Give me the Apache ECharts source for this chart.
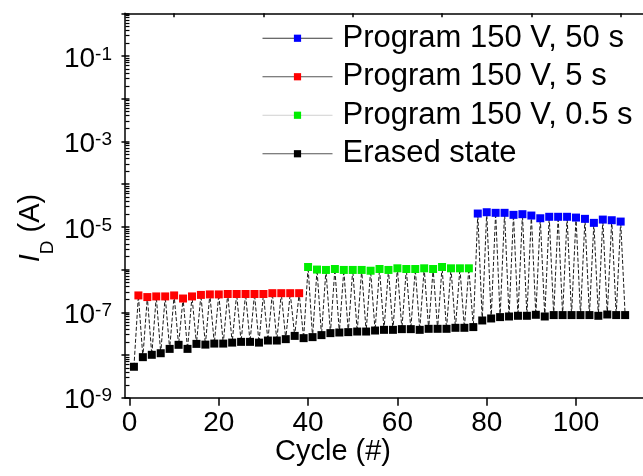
<!DOCTYPE html>
<html>
<head>
<meta charset="utf-8">
<script src="https://cdn.jsdelivr.net/npm/echarts@6/dist/echarts.min.js"></script>
<style>
  html, body { margin: 0; padding: 0; background: #fff; }
  #chart { width: 643px; height: 476px; }
</style>
</head>
<body>
<div id="chart"></div>
<script>
// Drain current over endurance cycles: erase on odd cycles, program on even cycles
const erasedCycles = [1, 3, 5, 7, 9, 11, 13, 15, 17, 19, 21, 23, 25, 27, 29, 31, 33, 35, 37, 39,
  41, 43, 45, 47, 49, 51, 53, 55, 57, 59, 61, 63, 65, 67, 69, 71, 73, 75, 77, 79,
  81, 83, 85, 87, 89, 91, 93, 95, 97, 99, 101, 103, 105, 107, 109, 111];
const erasedCurrent = [5.3e-9, 8.9e-9, 1.01e-8, 1.1e-8, 1.39e-8, 1.73e-8, 1.39e-8, 1.82e-8, 1.75e-8, 1.85e-8,
  1.85e-8, 1.95e-8, 2.03e-8, 2.03e-8, 1.95e-8, 2.18e-8, 2.18e-8, 2.35e-8, 2.8e-8, 2.48e-8,
  2.62e-8, 2.92e-8, 3.25e-8, 3.36e-8, 3.43e-8, 3.54e-8, 3.54e-8, 3.74e-8, 3.88e-8, 3.88e-8,
  4.03e-8, 4.03e-8, 3.88e-8, 4.1e-8, 4.1e-8, 4.1e-8, 4.33e-8, 4.33e-8, 4.5e-8, 6.43e-8,
  7.16e-8, 7.71e-8, 7.97e-8, 8.28e-8, 8.28e-8, 8.73e-8, 7.97e-8, 8.6e-8, 8.6e-8, 8.6e-8,
  8.6e-8, 8.6e-8, 8.28e-8, 8.87e-8, 8.6e-8, 8.6e-8];

const prog5sCycles = [2, 4, 6, 8, 10, 12, 14, 16, 18, 20, 22, 24, 26, 28, 30, 32, 34, 36, 38];
const prog5sCurrent = [2.48e-7, 2.27e-7, 2.35e-7, 2.35e-7, 2.48e-7, 2.1e-7, 2.35e-7, 2.55e-7, 2.62e-7, 2.62e-7,
  2.68e-7, 2.68e-7, 2.68e-7, 2.68e-7, 2.68e-7, 2.8e-7, 2.8e-7, 2.8e-7, 2.8e-7];

const prog05sCycles = [40, 42, 44, 46, 48, 50, 52, 54, 56, 58, 60, 62, 64, 66, 68, 70, 72, 74, 76];
const prog05sCurrent = [1.15e-6, 1.0e-6, 9.8e-7, 1.03e-6, 9.8e-7, 9.8e-7, 9.8e-7, 9.4e-7, 1.03e-6, 9.8e-7,
  1.07e-6, 1.03e-6, 1.03e-6, 1.07e-6, 1.03e-6, 1.15e-6, 1.07e-6, 1.07e-6, 1.07e-6];

const prog50sCycles = [78, 80, 82, 84, 86, 88, 90, 92, 94, 96, 98, 100, 102, 104, 106, 108, 110];
const prog50sCurrent = [2.05e-5, 2.2e-5, 2.13e-5, 2.13e-5, 1.91e-5, 1.98e-5, 1.84e-5, 1.59e-5, 1.72e-5, 1.72e-5,
  1.72e-5, 1.65e-5, 1.54e-5, 1.24e-5, 1.48e-5, 1.43e-5, 1.33e-5];

const xTickValues = [0, 20, 40, 60, 80, 100];
const xMinorTickValues = [10, 30, 50, 70, 90, 110];
const yExponents = [-9, -8, -7, -6, -5, -4, -3, -2, -1, 0];

const seriesDefs = [
  { name: 'Program 150 V, 50 s', cycles: prog50sCycles, values: prog50sCurrent, color: '#0000ff', legendLine: '#3a3a3a' },
  { name: 'Program 150 V, 5 s', cycles: prog5sCycles, values: prog5sCurrent, color: '#ff0000', legendLine: '#555555' },
  { name: 'Program 150 V, 0.5 s', cycles: prog05sCycles, values: prog05sCurrent, color: '#00ee00', legendLine: '#d0d0d0' },
  { name: 'Erased state', cycles: erasedCycles, values: erasedCurrent, color: '#000000', legendLine: '#555555' }
];

const pairs = (cs, vs) => cs.map((c, i) => [c, vs[i]]);

// the measurement sweep visits every point in cycle order
const sweep = [];
seriesDefs.forEach(d => d.cycles.forEach((c, i) => sweep.push([c, d.values[i]])));
sweep.sort((a, b) => a[0] - b[0]);

// minor log ticks (2..9 within each decade) on the exponent scale
const yMinorTicks = [];
for (let e = -9; e < 0; e++) {
  for (let k = 2; k <= 9; k++) yMinorTicks.push(e + Math.log10(k));
}

const FONT = 'Liberation Sans, Arial, sans-serif';
const axisLineStyle = { color: '#000', width: 1.5 };

const chart = echarts.init(document.getElementById('chart'), null, { renderer: 'canvas' });

chart.setOption({
  animation: false,
  backgroundColor: '#ffffff',
  grid: { left: 125, right: -4, top: 13.3, bottom: 78.3, containLabel: false },
  legend: {
    orient: 'vertical',
    left: 262,
    top: 19,
    padding: 0,
    itemGap: 0,
    itemWidth: 70,
    itemHeight: 9,
    selectedMode: false,
    textStyle: { fontFamily: FONT, fontSize: 31, color: '#000', lineHeight: 38.5, padding: [0, 0, 0, 5] },
    data: seriesDefs.map(d => ({
      name: d.name,
      lineStyle: { color: d.legendLine, width: 1, opacity: 1 }
    }))
  },
  xAxis: [
    {
      type: 'value', position: 'bottom', min: -1, max: 115,
      axisLine: { show: true, lineStyle: axisLineStyle, onZero: false },
      axisTick: { show: true, inside: false, length: 8, customValues: xTickValues, lineStyle: { color: '#000', width: 1.5 } },
      axisLabel: { show: true, customValues: xTickValues, margin: 12, fontFamily: FONT, fontSize: 28, color: '#000' },
      splitLine: { show: false }
    },
    {
      type: 'value', position: 'bottom', min: -1, max: 115,
      axisLine: { show: false },
      axisTick: { show: true, inside: false, length: 4, customValues: xMinorTickValues, lineStyle: { color: '#000', width: 1.5 } },
      axisLabel: { show: false },
      splitLine: { show: false }
    },
    {
      type: 'value', position: 'top', min: -1, max: 115,
      axisLine: { show: true, lineStyle: axisLineStyle, onZero: false },
      axisTick: { show: false },
      axisLabel: { show: false },
      splitLine: { show: false }
    }
  ],
  yAxis: [
    {
      // data axis: log scale of the drain current
      type: 'log', logBase: 10, min: 1e-9, max: 1, position: 'left',
      axisLine: { show: true, lineStyle: axisLineStyle, onZero: false },
      axisTick: { show: false },
      axisLabel: { show: false },
      splitLine: { show: false }
    },
    {
      // decade ticks and labels on the exponent scale
      type: 'value', min: -9, max: 0, interval: 1, position: 'left',
      axisLine: { show: false },
      axisTick: { show: true, inside: false, length: 8, customValues: yExponents, lineStyle: { color: '#000', width: 1.5 } },
      axisLabel: {
        show: true, margin: 13, padding: [6, 0, 0, 0],
        formatter: v => (Math.abs(v) % 2 === 1 ? '{b|10}{s|' + v + '}' : ''),
        rich: {
          b: { fontFamily: FONT, fontSize: 28, lineHeight: 28, color: '#000', verticalAlign: 'top' },
          s: { fontFamily: FONT, fontSize: 19, lineHeight: 19, color: '#000', verticalAlign: 'top' }
        }
      },
      splitLine: { show: false }
    },
    {
      type: 'value', min: -9, max: 0, position: 'left',
      axisLine: { show: false },
      axisTick: { show: true, inside: false, length: 4, customValues: yMinorTicks, lineStyle: { color: '#000', width: 1.2 } },
      axisLabel: { show: false },
      splitLine: { show: false }
    }
  ],
  graphic: [
    {
      type: 'text', x: 31, y: 228, rotation: Math.PI / 2,
      style: {
        text: '{i|I}{d|D}{n| (A)}',
        align: 'center', verticalAlign: 'middle',
        rich: {
          i: { fontFamily: FONT, fontSize: 29, lineHeight: 29, fontStyle: 'italic', fill: '#000', verticalAlign: 'top' },
          d: { fontFamily: FONT, fontSize: 19, lineHeight: 19, fill: '#000', verticalAlign: 'top', padding: [22, 0, 0, 0] },
          n: { fontFamily: FONT, fontSize: 29, lineHeight: 29, fill: '#000', verticalAlign: 'top' }
        }
      }
    },
    {
      type: 'text', x: 333, y: 452,
      style: { text: 'Cycle (#)', fontFamily: FONT, fontSize: 29, fill: '#000', align: 'center', verticalAlign: 'middle' }
    }
  ],
  series: [
    {
      name: 'sweep',
      type: 'line',
      xAxisIndex: 0, yAxisIndex: 0,
      data: sweep,
      showSymbol: false,
      symbol: 'none',
      lineStyle: { color: '#1a1a1a', width: 1, type: [4, 2] },
      z: 1,
      silent: true
    }
  ].concat(seriesDefs.map(d => ({
    name: d.name,
    type: 'line',
    xAxisIndex: 0, yAxisIndex: 0,
    data: pairs(d.cycles, d.values),
    symbol: 'rect',
    symbolSize: 8,
    showSymbol: true,
    itemStyle: { color: d.color },
    lineStyle: { color: d.legendLine, width: 1, opacity: 0 },
    z: 3
  })))
});
</script>
</body>
</html>
